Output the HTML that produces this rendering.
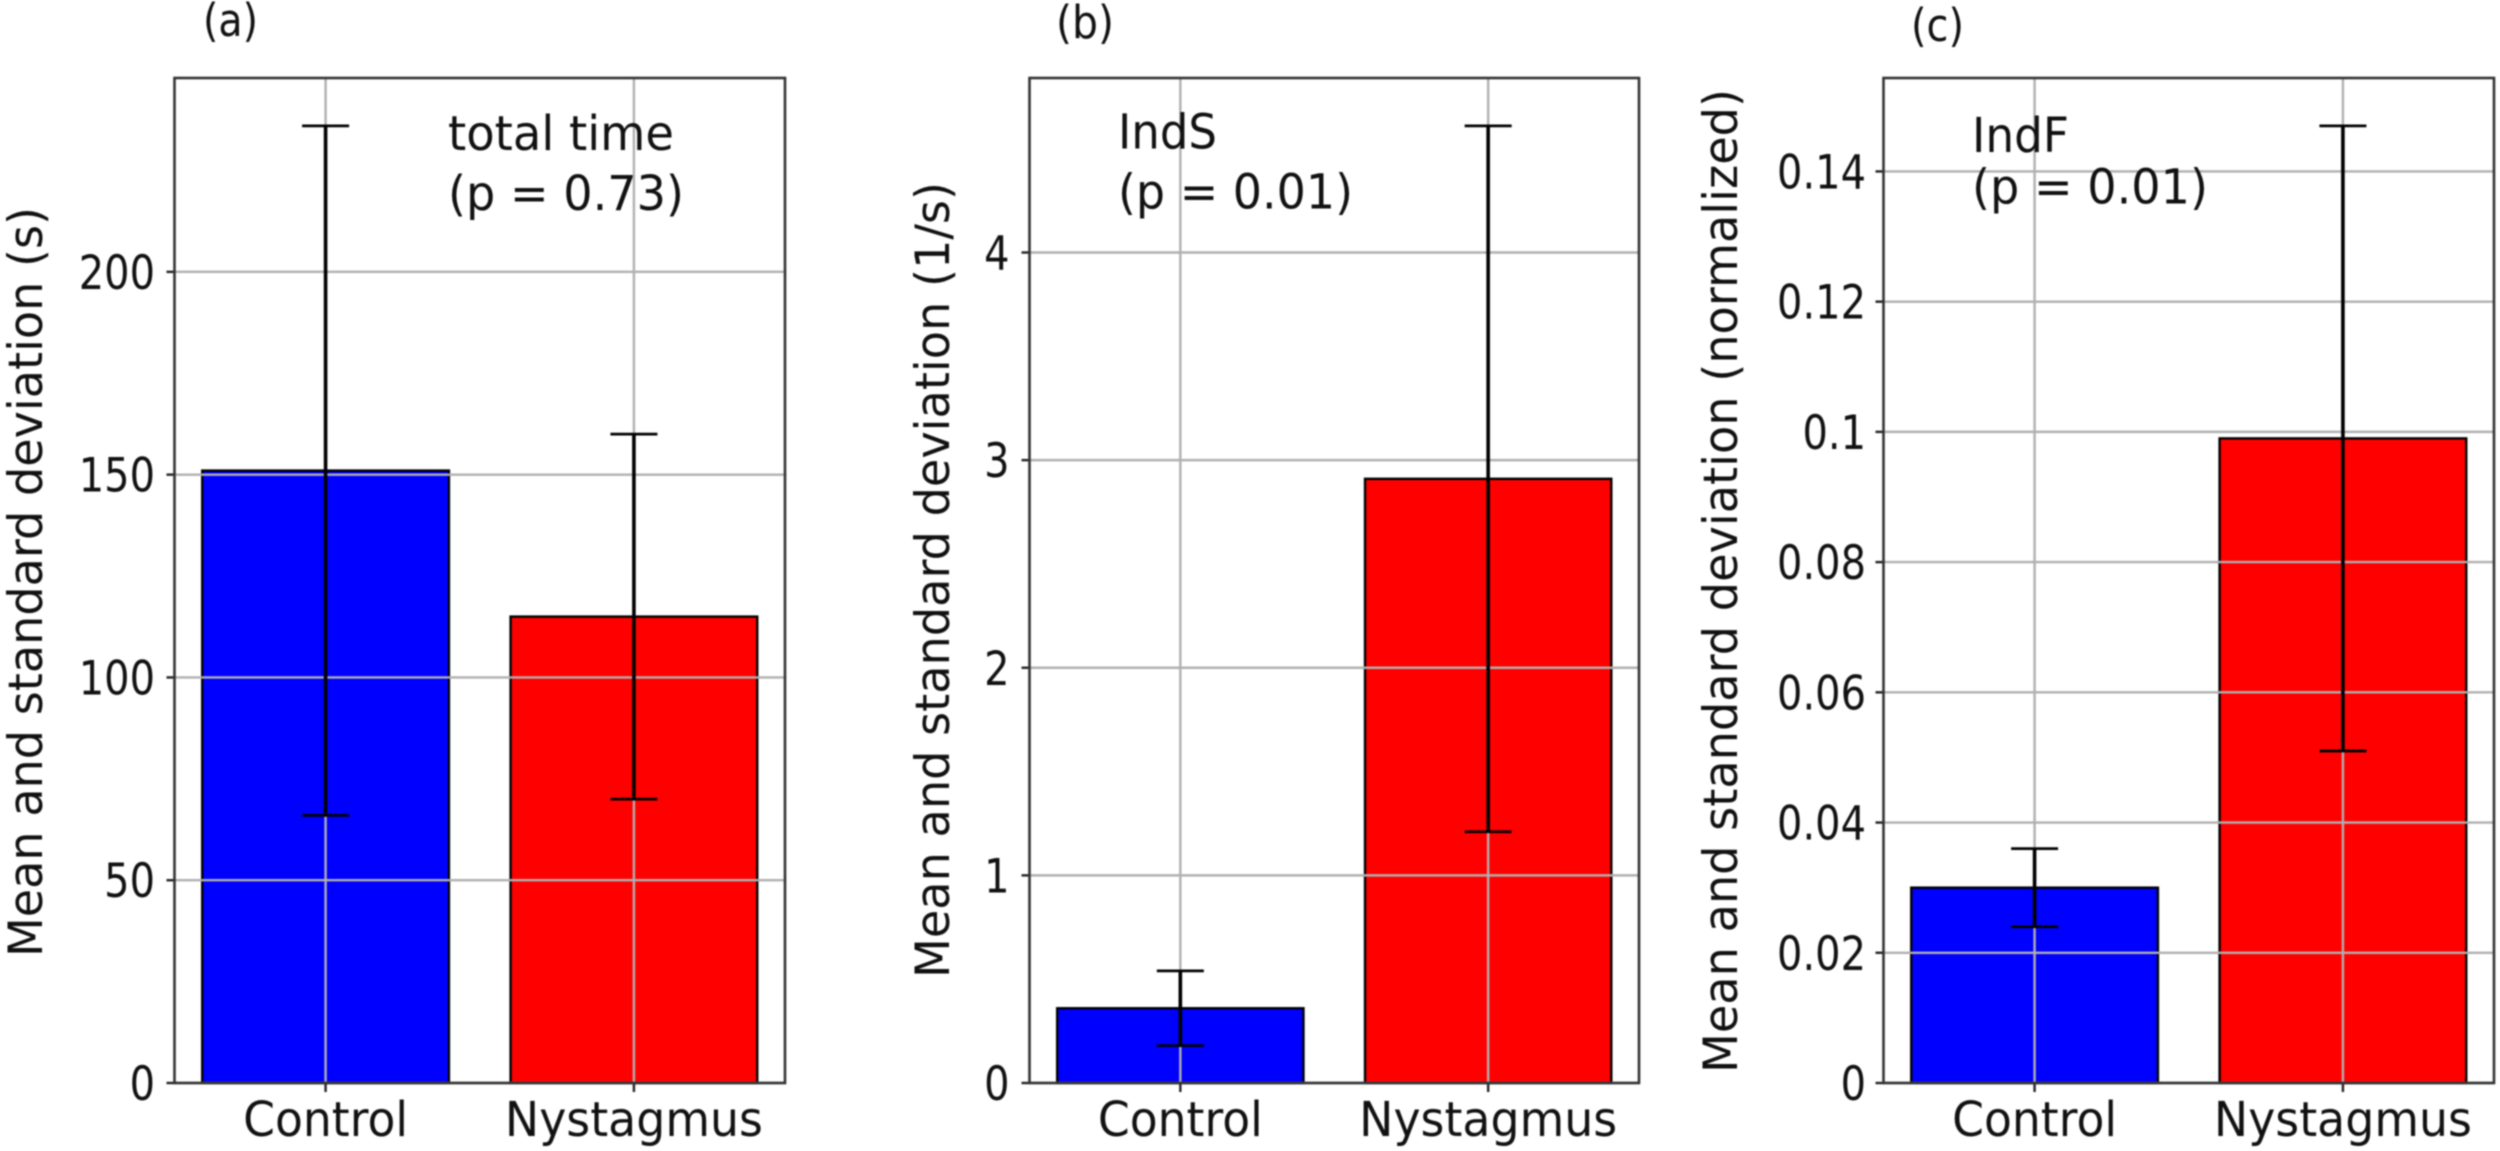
<!DOCTYPE html>
<html lang="en">
<head>
<meta charset="utf-8">
<title>Mean and standard deviation bar charts</title>
<style>
html,body{margin:0;padding:0;background:#fff;width:2500px;height:1151px;overflow:hidden}
svg{display:block;filter:blur(0.8px)}
text{font-family:"DejaVu Sans","Liberation Sans",sans-serif;fill:#111}
</style>
</head>
<body>
<svg id="chart" xmlns="http://www.w3.org/2000/svg" width="2500" height="1151" viewBox="0 0 2500 1151"></svg>
<script>
const categories = ['Control', 'Nystagmus'];

const panelAMeans = [151, 115];
const panelALower = [66, 70];
const panelAUpper = [236, 160];
const panelATicks = [0, 50, 100, 150, 200];
const panelATickLabels = ['0', '50', '100', '150', '200'];

const panelBMeans = [0.36, 2.91];
const panelBLower = [0.18, 1.21];
const panelBUpper = [0.54, 4.61];
const panelBTicks = [0, 1, 2, 3, 4];
const panelBTickLabels = ['0', '1', '2', '3', '4'];

const panelCMeans = [0.03, 0.099];
const panelCLower = [0.024, 0.051];
const panelCUpper = [0.036, 0.147];
const panelCTicks = [0, 0.02, 0.04, 0.06, 0.08, 0.1, 0.12, 0.14];
const panelCTickLabels = ['0', '0.02', '0.04', '0.06', '0.08', '0.1', '0.12', '0.14'];

const NS = 'http://www.w3.org/2000/svg';
const svg = document.getElementById('chart');
const TOP = 78, BOTTOM = 1083;

function line(parent, x1, y1, x2, y2, stroke, width) {
  const el = document.createElementNS(NS, 'line');
  el.setAttribute('x1', x1);
  el.setAttribute('y1', y1);
  el.setAttribute('x2', x2);
  el.setAttribute('y2', y2);
  el.setAttribute('stroke', stroke);
  el.setAttribute('stroke-width', width);
  parent.appendChild(el);
  return el;
}

function label(parent, str, x, y, size, opts) {
  const o = opts || {};
  const el = document.createElementNS(NS, 'text');
  el.textContent = str;
  el.setAttribute('font-size', size);
  el.setAttribute('xml:space', 'preserve');
  if (o.length) {
    el.setAttribute('textLength', o.length);
    el.setAttribute('lengthAdjust', 'spacingAndGlyphs');
  }
  if (o.rotate) {
    el.setAttribute('x', -o.length / 2);
    el.setAttribute('y', 0);
    el.setAttribute('transform', 'translate(' + x + ',' + y + ') rotate(-90) scale(1,' + (o.sy || 1) + ')');
  } else if (o.sx) {
    el.setAttribute('text-anchor', o.anchor || 'start');
    el.setAttribute('transform', 'translate(' + x + ',' + y + ') scale(' + o.sx + ',1)');
  } else {
    el.setAttribute('x', x);
    el.setAttribute('y', y);
  }
  parent.appendChild(el);
  return el;
}

function drawPanel(cfg) {
  const g = document.createElementNS(NS, 'g');
  
  
  svg.appendChild(g);

  const left = cfg.left, right = cfg.right;
  const unit = (right - left) / (1 + 2 * 0.49);
  const xScale = function (i) { return left + (0.49 + i) * unit; };
  const yMax = Math.max.apply(null, cfg.upper) * 1.05;
  const yScale = function (v) { return BOTTOM - v * (BOTTOM - TOP) / yMax; };

  categories.forEach(function (cat, i) {
    const bar = document.createElementNS(NS, 'rect');
    const cx = xScale(i);
    bar.setAttribute('x', cx - 0.4 * unit);
    bar.setAttribute('y', yScale(cfg.means[i]));
    bar.setAttribute('width', 0.8 * unit);
    bar.setAttribute('height', BOTTOM - yScale(cfg.means[i]));
    bar.setAttribute('fill', i === 0 ? '#0000ff' : '#ff0000');
    bar.setAttribute('stroke', '#000');
    bar.setAttribute('stroke-width', 2.4);
    
    
    g.appendChild(bar);
  });

  cfg.ticks.forEach(function (t, i) {
    const y = yScale(t);
    const grid = line(g, left, y, right, y, '#b0b0b0', 2.4);
    
    
    const tick = line(g, left - 8, y, left, y, '#222', 2.4);
    
    
    const text = label(g, cfg.tickLabels[i], cfg.tickX, y + 17, 47, { sx: 0.85, anchor: 'end' });
    
    
  });

  categories.forEach(function (cat, i) {
    const cx = xScale(i);
    const grid = line(g, cx, TOP, cx, BOTTOM, '#b0b0b0', 2.4);
    
    
    const tick = line(g, cx, BOTTOM, cx, BOTTOM + 9, '#222', 2.4);
    
    
    const len = i === 0 ? 165 : 258;
    const text = label(g, cat, cx - len / 2, 1136, 48, { length: len });
    
    
  });

  categories.forEach(function (cat, i) {
    const cx = xScale(i);
    const yLow = yScale(cfg.lower[i]), yHigh = yScale(cfg.upper[i]);
    const stem = line(g, cx, yLow, cx, yHigh, '#000', 3.6);
    
    
    const capTop = line(g, cx - 23.5, yHigh, cx + 23.5, yHigh, '#000', 2.8);
    
    
    const capLow = line(g, cx - 23.5, yLow, cx + 23.5, yLow, '#000', 2.8);
    
    
  });

  const frame = document.createElementNS(NS, 'rect');
  frame.setAttribute('x', left);
  frame.setAttribute('y', TOP);
  frame.setAttribute('width', right - left);
  frame.setAttribute('height', BOTTOM - TOP);
  frame.setAttribute('fill', 'none');
  frame.setAttribute('stroke', '#333');
  frame.setAttribute('stroke-width', 2.6);
  
  
  g.appendChild(frame);

  const yTitle = label(g, cfg.yLabel, cfg.yLabelX, cfg.yLabelY, 44, { rotate: true, length: cfg.yLabelLen, sy: 1.08 });
  
  

  const title = label(g, cfg.title, cfg.titleX, cfg.titleY, 45, { length: cfg.titleLen });
  
  

  const note1 = label(g, cfg.note1, cfg.noteX, cfg.note1Y, 48, { length: cfg.note1Len });
  
  
  const note2 = label(g, cfg.note2, cfg.noteX, cfg.note2Y, 48, { length: cfg.note2Len });
  
  
}

drawPanel({
  id: 'a', left: 174.5, right: 785,
  means: panelAMeans, lower: panelALower, upper: panelAUpper,
  ticks: panelATicks, tickLabels: panelATickLabels, tickX: 155,
  yLabel: 'Mean and standard deviation (s)', yLabelX: 42, yLabelY: 582, yLabelLen: 750,
  title: '(a)', titleX: 203, titleY: 36, titleLen: 55,
  note1: 'total time', note2: '(p = 0.73)', noteX: 448,
  note1Y: 150, note2Y: 210, note1Len: 226, note2Len: 236
});
drawPanel({
  id: 'b', left: 1029.5, right: 1639,
  means: panelBMeans, lower: panelBLower, upper: panelBUpper,
  ticks: panelBTicks, tickLabels: panelBTickLabels, tickX: 1009.5,
  yLabel: 'Mean and standard deviation (1/s)', yLabelX: 949, yLabelY: 580, yLabelLen: 796,
  title: '(b)', titleX: 1056, titleY: 38, titleLen: 58,
  note1: 'IndS', note2: '(p = 0.01)', noteX: 1118,
  note1Y: 148.5, note2Y: 208.5, note1Len: 99, note2Len: 235
});
drawPanel({
  id: 'c', left: 1883.5, right: 2494,
  means: panelCMeans, lower: panelCLower, upper: panelCUpper,
  ticks: panelCTicks, tickLabels: panelCTickLabels, tickX: 1866,
  yLabel: 'Mean and standard deviation (normalized)', yLabelX: 1737, yLabelY: 581, yLabelLen: 984,
  title: '(c)', titleX: 1911, titleY: 41, titleLen: 53,
  note1: 'IndF', note2: '(p = 0.01)', noteX: 1972,
  note1Y: 152, note2Y: 203.5, note1Len: 97, note2Len: 236
});
</script>
</body>
</html>
